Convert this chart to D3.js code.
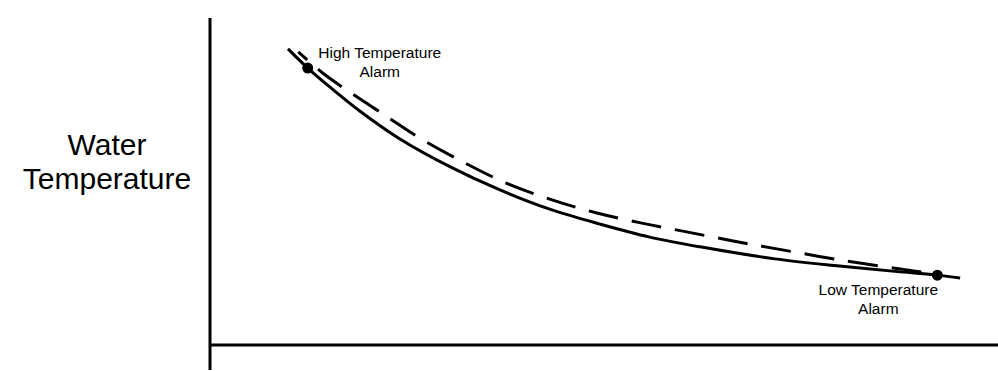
<!DOCTYPE html>
<html>
<head>
<meta charset="utf-8">
<script src="https://cdn.jsdelivr.net/npm/d3@7"></script>
<style>
  body { margin: 0; background: #fff; }
  text { font-family: "Liberation Sans", Arial, sans-serif; fill: #000; }
</style>
</head>
<body>
<svg id="chart" width="998" height="371"></svg>
<script>
// time (0-100) vs water temperature (0-100), no ticks on the original
var actualTime = [9.9, 12.4, 15.2, 19.0, 24.1, 30.5, 36.8, 43.1, 49.5, 55.8, 62.2, 71.7, 79.9, 87.6, 92.3, 95.2];
var actualTemp = [91.1, 85.2, 79.4, 72.0, 63.4, 54.8, 47.7, 41.8, 37.2, 33.2, 30.2, 26.5, 24.3, 22.5, 21.5, 20.6];

var idealTime = [11.2, 14.3, 17.5, 22.5, 26.6, 32.6, 37.9, 43.5, 49.1, 54.8, 60.5, 66.4, 72.1, 79.9, 87.6, 92.3];
var idealTemp = [90.2, 83.7, 78.2, 70.2, 63.7, 55.7, 49.5, 44.6, 40.6, 37.5, 34.8, 32.0, 29.5, 26.2, 23.4, 21.8];

var alarmNames = ["High Temperature", "Low Temperature"];
var alarmTime = [12.4, 92.3];
var alarmTemp = [85.2, 21.5];

var yLabel = ["Water", "Temperature"];

var svg = d3.select("#chart");
var x = d3.scaleLinear().domain([0, 100]).range([210, 998]);
var y = d3.scaleLinear().domain([0, 100]).range([345, 20]);

// axes: plain lines, the vertical one runs a bit past the baseline
svg.append("line")
  .attr("x1", x(0)).attr("x2", x(0))
  .attr("y1", y(100) - 2).attr("y2", y(0) + 25)
  .attr("stroke", "#000").attr("stroke-width", 3);
svg.append("line")
  .attr("x1", x(0)).attr("x2", x(100))
  .attr("y1", y(0)).attr("y2", y(0))
  .attr("stroke", "#000").attr("stroke-width", 3);

var yl = svg.append("text")
  .attr("text-anchor", "middle")
  .attr("font-size", 30)
  .attr("transform", "translate(107,0)");
yl.selectAll("tspan").data(yLabel).enter().append("tspan")
  .attr("x", 0)
  .attr("y", function(d, i) { return 155 + i * 34; })
  .text(function(d) { return d; });

var line = d3.line()
  .x(function(d) { return x(d[0]); })
  .y(function(d) { return y(d[1]); })
  .curve(d3.curveCatmullRom.alpha(0.5));

var ideal = d3.zip(idealTime, idealTemp);
var actual = d3.zip(actualTime, actualTemp);

svg.append("path").datum(ideal)
  .attr("d", line)
  .attr("fill", "none").attr("stroke", "#000")
  .attr("stroke-width", 3)
  .attr("stroke-dasharray", "30,14")
  .attr("stroke-dashoffset", 18);

svg.append("path").datum(actual)
  .attr("d", line)
  .attr("fill", "none").attr("stroke", "#000")
  .attr("stroke-width", 3);

svg.selectAll("circle.alarm").data(alarmTime).enter().append("circle")
  .attr("class", "alarm")
  .attr("cx", function(d) { return x(d); })
  .attr("cy", function(d, i) { return y(alarmTemp[i]); })
  .attr("r", 5.5)
  .attr("fill", "#000");

// label offsets from each alarm dot
var lblOff = [[72, -10], [-59, 20]];
alarmNames.forEach(function(name, i) {
  var t = svg.append("text")
    .attr("text-anchor", "middle")
    .attr("font-size", 15.5)
    .attr("transform", "translate(" + (x(alarmTime[i]) + lblOff[i][0]) + "," + (y(alarmTemp[i]) + lblOff[i][1]) + ")");
  t.append("tspan").attr("x", 0).attr("y", 0).text(name);
  t.append("tspan").attr("x", 0).attr("y", 19).text("Alarm");
});
</script>
</body>
</html>
